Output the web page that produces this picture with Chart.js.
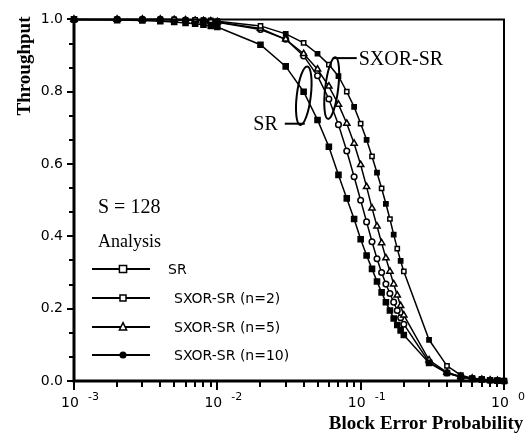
<!DOCTYPE html>
<html>
<head>
<meta charset="utf-8">
<script src="https://cdn.jsdelivr.net/npm/chart.js@4/dist/chart.umd.min.js"></script>
<style>
html,body{margin:0;padding:0;background:#fff;}
#wrap{width:526px;height:439px;}
</style>
</head>
<body>
<div id="wrap"><canvas id="c" width="526" height="439"></canvas></div>
<script>
// ---- data ----
const pValues = [0.001,0.002,0.003,0.004,0.005,0.006,0.007,0.008,0.009,
  0.01,
  0.02,0.03,0.04,0.05,0.06,0.07,0.08,0.09,
  0.10,0.11,0.12,0.13,0.14,0.15,0.16,0.17,0.18,0.19,0.20,
  0.3,0.4,0.5,0.6,0.7,0.8,0.9,1.0];

const srValues = [1.000,0.998,0.997,0.995,0.993,0.990,0.988,0.985,0.982,
  0.979,
  0.930,0.870,0.800,0.722,0.648,0.570,0.505,0.448,
  0.392,0.347,0.310,0.275,0.245,0.218,0.195,0.173,0.155,0.140,0.127,
  0.050,0.022,0.011,0.006,0.004,0.002,0.001,0.000];

const n2Values = [1.000,1.000,1.000,1.000,1.000,0.999,0.999,0.998,0.997,
  0.995,
  0.982,0.960,0.935,0.905,0.875,0.843,0.800,0.758,
  0.712,0.667,0.621,0.576,0.533,0.490,0.448,0.405,0.366,0.332,0.303,
  0.114,0.042,0.016,0.008,0.005,0.003,0.001,0.000];

const n5Values = [1.000,1.000,1.000,1.000,0.999,0.998,0.997,0.996,0.995,
  0.993,
  0.975,0.945,0.905,0.862,0.815,0.765,0.712,0.657,
  0.598,0.537,0.478,0.428,0.382,0.340,0.303,0.268,0.237,0.208,0.182,
  0.058,0.024,0.012,0.007,0.004,0.002,0.001,0.000];

const n10Values = [1.000,1.000,1.000,1.000,0.999,0.998,0.997,0.996,0.995,
  0.992,
  0.972,0.945,0.899,0.844,0.780,0.709,0.636,0.565,
  0.500,0.440,0.385,0.338,0.300,0.268,0.242,0.218,0.195,0.175,0.157,
  0.052,0.022,0.011,0.006,0.004,0.002,0.001,0.000];

const seriesLabels = ['SR','SXOR-SR (n=2)','SXOR-SR (n=5)','SXOR-SR (n=10)'];
const xTickExponents = [-3,-2,-1,0];
const yMajorTicks = [0.0,0.2,0.4,0.6,0.8,1.0];
const xTitle = 'Block Error Probability';
const yTitle = 'Throughput';
const infoLines = ['S = 128','Analysis'];
// annotation anchors in data units (p, throughput)
const srGroupAnchor = {p:0.0401, t:0.789, text:'SR'};
const sxorGroupAnchor = {p:0.0628, t:0.81, text:'SXOR-SR'};

// ---- styles ----
const SERIF = '"Liberation Serif", "Times New Roman", serif';
const SANS = '"DejaVu Sans", sans-serif';
const markerStyles = [
  {shape:'rect', r:3.6, fill:(i)=>'#000'},
  {shape:'rect', r:3.0, fill:(i)=> (i%2 ? '#000' : '#fff')},
  {shape:'triangle', r:3.6, fill:(i)=>'#fff'},
  {shape:'circle', r:2.8, fill:(i)=>'#fff'}
];
const allValues = [srValues, n2Values, n5Values, n10Values];

function toPoints(vals){ return pValues.map((p,i)=>({x:p, y:vals[i]})); }

const datasets = allValues.map((vals, k) => {
  const ms = markerStyles[k];
  return {
    label: seriesLabels[k],
    data: toPoints(vals),
    borderColor: '#000',
    borderWidth: 1.5,
    tension: 0,
    fill: false,
    clip: 10,
    pointStyle: ms.shape,
    pointRadius: ms.r,
    pointHoverRadius: ms.r,
    pointBorderColor: '#000',
    pointBorderWidth: 1.5,
    pointBackgroundColor: (ctx) => ms.fill(ctx.dataIndex)
  };
});

function drawMarker(ctx, shape, x, y, r, fill){
  ctx.save();
  ctx.fillStyle = fill; ctx.strokeStyle = '#000'; ctx.lineWidth = 1.5;
  ctx.beginPath();
  if (shape === 'rect') { ctx.rect(x-r, y-r, 2*r, 2*r); }
  else if (shape === 'triangle') { ctx.moveTo(x, y-r*1.2); ctx.lineTo(x+r, y+r*0.8); ctx.lineTo(x-r, y+r*0.8); ctx.closePath(); }
  else { ctx.arc(x, y, r, 0, Math.PI*2); }
  ctx.fill(); ctx.stroke();
  ctx.restore();
}

const decorPlugin = {
  id: 'decor',
  afterDraw(chart){
    const ctx = chart.ctx;
    const xs = chart.scales.x, ys = chart.scales.y;
    const a = chart.chartArea;
    ctx.save();
    ctx.strokeStyle = '#000'; ctx.fillStyle = '#000';
    // frame
    ctx.lineWidth = 2;
    ctx.beginPath(); ctx.moveTo(a.left, a.top); ctx.lineTo(a.right, a.top); ctx.lineTo(a.right, a.bottom); ctx.stroke();
    ctx.lineWidth = 3;
    ctx.beginPath(); ctx.moveTo(a.left, a.top-1); ctx.lineTo(a.left, a.bottom); ctx.lineTo(a.right+1, a.bottom); ctx.stroke();
    // y ticks (major + 2 minors)
    ctx.lineWidth = 2;
    for (let k = 0; k <= 15; k++) {
      const v = k * (0.2/3);
      const y = Math.round(ys.getPixelForValue(v));
      const len = (k % 3 === 0) ? 7 : 5;
      ctx.beginPath(); ctx.moveTo(a.left - len, y); ctx.lineTo(a.left, y); ctx.stroke();
    }
    // x ticks
    for (let e = -3; e <= 0; e++) {
      for (let m = 1; m <= 9; m++) {
        const v = m * Math.pow(10, e);
        if (v > 1.0000001) break;
        const x = Math.round(xs.getPixelForValue(v));
        const len = (m === 1) ? 9 : 6;
        ctx.beginPath(); ctx.moveTo(x, a.bottom); ctx.lineTo(x, a.bottom + len); ctx.stroke();
      }
    }
    // x tick labels: 10 with superscript exponent
    ctx.textBaseline = 'alphabetic';
    xTickExponents.forEach(e => {
      const x = xs.getPixelForValue(Math.pow(10, e));
      ctx.font = '14px ' + SANS; ctx.textAlign = 'center';
      ctx.fillText('10', x - 4, a.bottom + 26);
      ctx.font = '11px ' + SANS; ctx.textAlign = 'left';
      ctx.fillText(String(e), x + 14, a.bottom + 19);
    });
    // axis titles
    ctx.font = 'bold 19px ' + SERIF;
    ctx.textAlign = 'center'; ctx.textBaseline = 'middle';
    ctx.fillText(xTitle, 426, a.bottom + 43);
    ctx.save(); ctx.translate(25, 66); ctx.rotate(-Math.PI/2);
    ctx.fillText(yTitle, 0, 0); ctx.restore();
    // info text
    ctx.textAlign = 'left';
    ctx.font = '20px ' + SERIF; ctx.fillText(infoLines[0], a.left + 24, 208);
    ctx.font = '18px ' + SERIF; ctx.fillText(infoLines[1], a.left + 24, 242);
    // legend
    const rowY = [269, 298, 327, 355];
    const labelX = [168, 174, 174, 174];
    ctx.font = '14px ' + SANS;
    chart.data.datasets.forEach((ds, k) => {
      const y = rowY[k];
      ctx.lineWidth = 2;
      ctx.beginPath(); ctx.moveTo(92, y); ctx.lineTo(150, y); ctx.stroke();
      const ms = markerStyles[k];
      drawMarker(ctx, ms.shape, 123, y, ms.r, k === 3 ? '#000' : '#fff');
      ctx.fillStyle = '#000';
      ctx.fillText(ds.label, labelX[k], y + 1);
    });
    // group annotations
    ctx.lineWidth = 2;
    const sx = xs.getPixelForValue(srGroupAnchor.p), sy = ys.getPixelForValue(srGroupAnchor.t);
    ctx.beginPath(); ctx.ellipse(sx, sy, 7, 29.5, 0.12, 0, Math.PI*2); ctx.stroke();
    ctx.beginPath(); ctx.moveTo(sx + 1, sy + 28); ctx.lineTo(sx - 19, sy + 28); ctx.stroke();
    ctx.font = '20px ' + SERIF; ctx.textAlign = 'right';
    ctx.fillText(srGroupAnchor.text, sx - 26, sy + 29);
    const qx = xs.getPixelForValue(sxorGroupAnchor.p), qy = ys.getPixelForValue(sxorGroupAnchor.t);
    ctx.beginPath(); ctx.ellipse(qx, qy, 6.5, 31, 0.12, 0, Math.PI*2); ctx.stroke();
    ctx.beginPath(); ctx.moveTo(qx + 1, qy - 30); ctx.lineTo(qx + 25, qy - 30); ctx.stroke();
    ctx.textAlign = 'left';
    ctx.fillText(sxorGroupAnchor.text, qx + 27, qy - 28);
    ctx.restore();
  }
};

new Chart(document.getElementById('c'), {
  type: 'line',
  data: { datasets },
  options: {
    responsive: false,
    animation: false,
    devicePixelRatio: 1,
    layout: { padding: { top: 14, right: 22, left: 0, bottom: 0 } },
    plugins: { legend: { display: false }, tooltip: { enabled: false } },
    scales: {
      x: {
        type: 'logarithmic', min: 0.001, max: 1,
        grid: { display: false, drawTicks: false },
        border: { display: false },
        ticks: { display: false },
        afterFit: (s) => { s.height = 58; }
      },
      y: {
        type: 'linear', min: 0, max: 1,
        grid: { display: false, drawTicks: false },
        border: { display: false },
        afterBuildTicks: (s) => { s.ticks = yMajorTicks.map(v => ({value: v})); },
        ticks: {
          color: '#000', padding: 11,
          font: { family: '"DejaVu Sans", sans-serif', size: 14 },
          callback: (v) => Number(v).toFixed(1)
        },
        afterFit: (s) => { s.width = 74; }
      }
    }
  },
  plugins: [decorPlugin]
});
</script>
</body>
</html>
